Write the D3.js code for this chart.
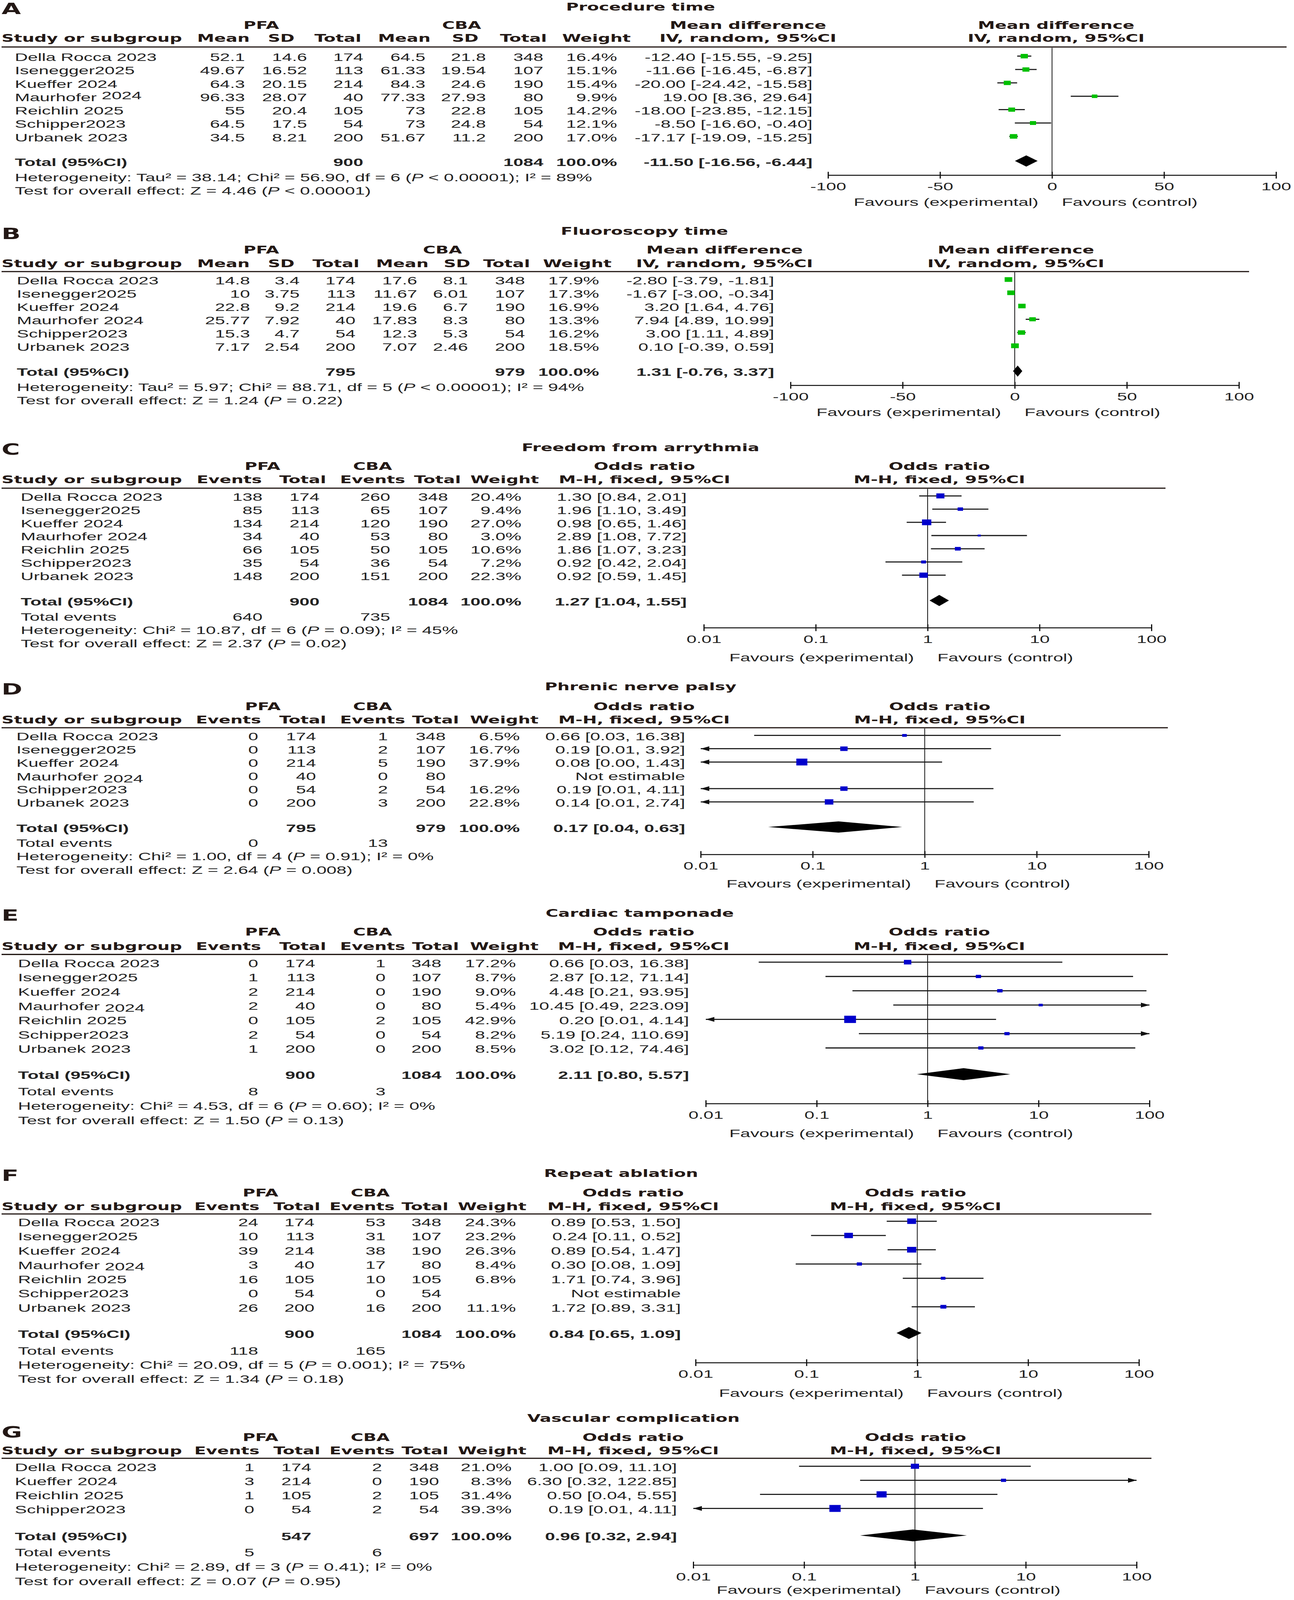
<!DOCTYPE html>
<html>
<head>
<meta charset="utf-8">
<script src="https://cdn.jsdelivr.net/npm/d3@7"></script>
<style>
  html, body { margin: 0; width: 100%; height: 100%; overflow: hidden; background: #fff; }
  svg { display: block; width: 100vw; height: 100vh; }
</style>
</head>
<body>
<svg id="chart"></svg>
<script>
const W = 3313, H = 6640;

// ---- data ----
const mdTicks = [-100, -50, 0, 50, 100];
const orTicks = [0.01, 0.1, 1, 10, 100];

// mean difference rows: study, PFA mean, SD, total, CBA mean, SD, total, weight, MD, lower, upper
const rowsA = [
  ["Della Rocca 2023", 52.1, 14.6, 174, 64.5, 21.8, 348, 16.4, -12.40, -15.55, -9.25],
  ["Isenegger2025", 49.67, 16.52, 113, 61.33, 19.54, 107, 15.1, -11.66, -16.45, -6.87],
  ["Kueffer 2024", 64.3, 20.15, 214, 84.3, 24.6, 190, 15.4, -20.00, -24.42, -15.58],
  ["Maurhofer 2024", 96.33, 28.07, 40, 77.33, 27.93, 80, 9.9, 19.00, 8.36, 29.64],
  ["Reichlin 2025", 55, 20.4, 105, 73, 22.8, 105, 14.2, -18.00, -23.85, -12.15],
  ["Schipper2023", 64.5, 17.5, 54, 73, 24.8, 54, 12.1, -8.50, -16.60, -0.40],
  ["Urbanek 2023", 34.5, 8.21, 200, 51.67, 11.2, 200, 17.0, -17.17, -19.09, -15.25]
];
const totalA = [900, 1084, -11.50, -16.56, -6.44];
const hetA = "Heterogeneity: Tau² = 38.14; Chi² = 56.90, df = 6 (P < 0.00001); I² = 89%";
const testA = "Test for overall effect: Z = 4.46 (P < 0.00001)";

const rowsB = [
  ["Della Rocca 2023", 14.8, 3.4, 174, 17.6, 8.1, 348, 17.9, -2.80, -3.79, -1.81],
  ["Isenegger2025", 10, 3.75, 113, 11.67, 6.01, 107, 17.3, -1.67, -3.00, -0.34],
  ["Kueffer 2024", 22.8, 9.2, 214, 19.6, 6.7, 190, 16.9, 3.20, 1.64, 4.76],
  ["Maurhofer 2024", 25.77, 7.92, 40, 17.83, 8.3, 80, 13.3, 7.94, 4.89, 10.99],
  ["Schipper2023", 15.3, 4.7, 54, 12.3, 5.3, 54, 16.2, 3.00, 1.11, 4.89],
  ["Urbanek 2023", 7.17, 2.54, 200, 7.07, 2.46, 200, 18.5, 0.10, -0.39, 0.59]
];
const totalB = [795, 979, 1.31, -0.76, 3.37];
const hetB = "Heterogeneity: Tau² = 5.97; Chi² = 88.71, df = 5 (P < 0.00001); I² = 94%";
const testB = "Test for overall effect: Z = 1.24 (P = 0.22)";

// odds ratio rows: study, PFA events, total, CBA events, total, weight, OR, lower, upper
const rowsC = [
  ["Della Rocca 2023", 138, 174, 260, 348, 20.4, 1.30, 0.84, 2.01],
  ["Isenegger2025", 85, 113, 65, 107, 9.4, 1.96, 1.10, 3.49],
  ["Kueffer 2024", 134, 214, 120, 190, 27.0, 0.98, 0.65, 1.46],
  ["Maurhofer 2024", 34, 40, 53, 80, 3.0, 2.89, 1.08, 7.72],
  ["Reichlin 2025", 66, 105, 50, 105, 10.6, 1.86, 1.07, 3.23],
  ["Schipper2023", 35, 54, 36, 54, 7.2, 0.92, 0.42, 2.04],
  ["Urbanek 2023", 148, 200, 151, 200, 22.3, 0.92, 0.59, 1.45]
];
const totalC = [900, 1084, 1.27, 1.04, 1.55];
const eventsC = [640, 735];
const hetC = "Heterogeneity: Chi² = 10.87, df = 6 (P = 0.09); I² = 45%";
const testC = "Test for overall effect: Z = 2.37 (P = 0.02)";

const rowsD = [
  ["Della Rocca 2023", 0, 174, 1, 348, 6.5, 0.66, 0.03, 16.38],
  ["Isenegger2025", 0, 113, 2, 107, 16.7, 0.19, 0.01, 3.92],
  ["Kueffer 2024", 0, 214, 5, 190, 37.9, 0.08, 0.00, 1.43],
  ["Maurhofer 2024", 0, 40, 0, 80, null, null, null, null],
  ["Schipper2023", 0, 54, 2, 54, 16.2, 0.19, 0.01, 4.11],
  ["Urbanek 2023", 0, 200, 3, 200, 22.8, 0.14, 0.01, 2.74]
];
const totalD = [795, 979, 0.17, 0.04, 0.63];
const eventsD = [0, 13];
const hetD = "Heterogeneity: Chi² = 1.00, df = 4 (P = 0.91); I² = 0%";
const testD = "Test for overall effect: Z = 2.64 (P = 0.008)";

const rowsE = [
  ["Della Rocca 2023", 0, 174, 1, 348, 17.2, 0.66, 0.03, 16.38],
  ["Isenegger2025", 1, 113, 0, 107, 8.7, 2.87, 0.12, 71.14],
  ["Kueffer 2024", 2, 214, 0, 190, 9.0, 4.48, 0.21, 93.95],
  ["Maurhofer 2024", 2, 40, 0, 80, 5.4, 10.45, 0.49, 223.09],
  ["Reichlin 2025", 0, 105, 2, 105, 42.9, 0.20, 0.01, 4.14],
  ["Schipper2023", 2, 54, 0, 54, 8.2, 5.19, 0.24, 110.69],
  ["Urbanek 2023", 1, 200, 0, 200, 8.5, 3.02, 0.12, 74.46]
];
const totalE = [900, 1084, 2.11, 0.80, 5.57];
const eventsE = [8, 3];
const hetE = "Heterogeneity: Chi² = 4.53, df = 6 (P = 0.60); I² = 0%";
const testE = "Test for overall effect: Z = 1.50 (P = 0.13)";

const rowsF = [
  ["Della Rocca 2023", 24, 174, 53, 348, 24.3, 0.89, 0.53, 1.50],
  ["Isenegger2025", 10, 113, 31, 107, 23.2, 0.24, 0.11, 0.52],
  ["Kueffer 2024", 39, 214, 38, 190, 26.3, 0.89, 0.54, 1.47],
  ["Maurhofer 2024", 3, 40, 17, 80, 8.4, 0.30, 0.08, 1.09],
  ["Reichlin 2025", 16, 105, 10, 105, 6.8, 1.71, 0.74, 3.96],
  ["Schipper2023", 0, 54, 0, 54, null, null, null, null],
  ["Urbanek 2023", 26, 200, 16, 200, 11.1, 1.72, 0.89, 3.31]
];
const totalF = [900, 1084, 0.84, 0.65, 1.09];
const eventsF = [118, 165];
const hetF = "Heterogeneity: Chi² = 20.09, df = 5 (P = 0.001); I² = 75%";
const testF = "Test for overall effect: Z = 1.34 (P = 0.18)";

const rowsG = [
  ["Della Rocca 2023", 1, 174, 2, 348, 21.0, 1.00, 0.09, 11.10],
  ["Kueffer 2024", 3, 214, 0, 190, 8.3, 6.30, 0.32, 122.85],
  ["Reichlin 2025", 1, 105, 2, 105, 31.4, 0.50, 0.04, 5.55],
  ["Schipper2023", 0, 54, 2, 54, 39.3, 0.19, 0.01, 4.11]
];
const totalG = [547, 697, 0.96, 0.32, 2.94];
const eventsG = [5, 6];
const hetG = "Heterogeneity: Chi² = 2.89, df = 3 (P = 0.41); I² = 0%";
const testG = "Test for overall effect: Z = 0.07 (P = 0.95)";

// ---- layout of each panel (pixel positions) ----
const panels = [
  { id: "A", title: "Procedure time", type: "md", rows: rowsA, total: totalA, het: hetA, test: testA,
    labelY: 36, titleX: 1640, titleY: 28, head1Y: 105, head2Y: 158, ruleY: 195, ruleEnd: 3294,
    firstY: 237, lastY: 570, totalY: 672, hetY: 735, testY: 791, axisY: 727, favY: 838,
    studyX: 38, colX: [627, 786, 930, 1089, 1244, 1391], weightX: 1580, ciX: 2080,
    headX: [572, 720, 865, 1035, 1191, 1340], weightHX: 1527, groupX: [669, 1182],
    ciHX: 1915, plotHX: 2704, plot: [2120, 3267], maurDy: -8 },
  { id: "B", title: "Fluoroscopy time", type: "md", rows: rowsB, total: totalB, het: hetB, test: testB,
    labelY: 971, titleX: 1650, titleY: 960, head1Y: 1037, head2Y: 1094, ruleY: 1127, ruleEnd: 3198,
    firstY: 1164, lastY: 1439, totalY: 1544, hetY: 1606, testY: 1661, axisY: 1599, favY: 1710,
    studyX: 43, colX: [640, 767, 910, 1068, 1198, 1344], weightX: 1534, ciX: 1982,
    headX: [572, 720, 860, 1030, 1170, 1297], weightHX: 1478, groupX: [669, 1133],
    ciHX: 1855, plotHX: 2601, plot: [2024, 3172], maurDy: 0 },
  { id: "C", title: "Freedom from arrythmia", type: "or", rows: rowsC, total: totalC, events: eventsC, het: hetC, test: testC,
    labelY: 1866, titleX: 1640, titleY: 1858, head1Y: 1935, head2Y: 1991, ruleY: 2026, ruleEnd: 2984,
    firstY: 2062, lastY: 2391, totalY: 2496, eventsY: 2559, hetY: 2614, testY: 2669, axisY: 2605, favY: 2728,
    studyX: 53, colX: [672, 818, 999, 1147], weightX: 1335, ciX: 1758,
    headX: [587, 775, 954, 1120], weightHX: 1292, groupX: [672, 954],
    ciHX: 1650, plotHX: 2405, plot: [1802, 2948], maurDy: 0 },
  { id: "D", title: "Phrenic nerve palsy", type: "or", rows: rowsD, total: totalD, events: eventsD, het: hetD, test: testD,
    labelY: 2860, titleX: 1640, titleY: 2850, head1Y: 2932, head2Y: 2988, ruleY: 3020, ruleEnd: 2990,
    firstY: 3056, lastY: 3332, totalY: 3436, eventsY: 3498, hetY: 3553, testY: 3610, axisY: 3546, favY: 3667,
    studyX: 42, colX: [661, 809, 993, 1141], weightX: 1331, ciX: 1754,
    headX: [585, 775, 954, 1115], weightHX: 1291, groupX: [673, 954],
    ciHX: 1649, plotHX: 2406, plot: [1794, 2941], maurDy: 9 },
  { id: "E", title: "Cardiac tamponade", type: "or", rows: rowsE, total: totalE, events: eventsE, het: hetE, test: testE,
    labelY: 3800, titleX: 1638, titleY: 3790, head1Y: 3868, head2Y: 3927, ruleY: 3961, ruleEnd: 2990,
    firstY: 3997, lastY: 4353, totalY: 4462, eventsY: 4530, hetY: 4589, testY: 4648, axisY: 4580, favY: 4703,
    studyX: 46, colX: [661, 807, 987, 1130], weightX: 1321, ciX: 1764,
    headX: [585, 775, 954, 1115], weightHX: 1291, groupX: [673, 954],
    ciHX: 1648, plotHX: 2405, plot: [1807, 2943], maurDy: 6 },
  { id: "F", title: "Repeat ablation", type: "or", rows: rowsF, total: totalF, events: eventsF, het: hetF, test: testF,
    labelY: 4879, titleX: 1590, titleY: 4870, head1Y: 4950, head2Y: 5007, ruleY: 5038, ruleEnd: 2948,
    firstY: 5072, lastY: 5427, totalY: 5536, eventsY: 5605, hetY: 5663, testY: 5722, axisY: 5655, favY: 5780,
    studyX: 46, colX: [661, 805, 987, 1130], weightX: 1321, ciX: 1743,
    headX: [581, 760, 927, 1088], weightHX: 1260, groupX: [667, 948],
    ciHX: 1621, plotHX: 2344, plot: [1781, 2916], maurDy: 6 },
  { id: "G", title: "Vascular complication", type: "or", rows: rowsG, total: totalG, events: eventsG, het: hetG, test: testG,
    labelY: 5944, titleX: 1622, titleY: 5885, head1Y: 5965, head2Y: 6020, ruleY: 6052, ruleEnd: 2948,
    firstY: 6089, lastY: 6264, totalY: 6376, eventsY: 6443, hetY: 6502, testY: 6562, axisY: 6495, favY: 6598,
    studyX: 38, colX: [651, 797, 978, 1124], weightX: 1310, ciX: 1733,
    headX: [581, 760, 927, 1088], weightHX: 1260, groupX: [667, 948],
    ciHX: 1621, plotHX: 2344, plot: [1775, 2910], maurDy: 0 }
];

const HEAD = "'DejaVu Sans', Verdana, sans-serif";
const BODY = "'Liberation Sans', Arial, sans-serif";
const INK = "#231815";

// the figure is drawn in its own 3313x6640 frame and stretched to whatever window it gets
const svg = d3.select("#chart")
  .attr("viewBox", `0 0 ${W} ${H}`)
  .attr("preserveAspectRatio", "none");
svg.append("rect").attr("width", W).attr("height", H).attr("fill", "#fff");

function txt(g, x, y, s, opt = {}) {
  const t = g.append("text")
    .attr("x", x)
    .attr("y", y)
    .attr("dominant-baseline", "central")
    .attr("text-anchor", opt.anchor || "start")
    .attr("font-family", opt.head ? HEAD : BODY)
    .attr("font-size", opt.size || (opt.head ? 44 : 46))
    .attr("font-weight", opt.head || opt.bold ? "bold" : "normal")
    .attr("fill", opt.head ? INK : "#222");
  if (s != null) t.text(s);
  return t;
}

// statistics line, P in italics
function statLine(g, x, y, s) {
  const t = txt(g, x, y, null);
  const parts = s.split("(P");
  t.append("tspan").text(parts[0] + "(");
  t.append("tspan").attr("font-style", "italic").text("P");
  t.append("tspan").text(parts[1]);
}

const ciText = (e, l, u) => `${e.toFixed(2)} [${l.toFixed(2)}, ${u.toFixed(2)}]`;

function drawPanel(p) {
  const g = svg.append("g").attr("class", `panel ${p.id}`);
  const isMD = p.type === "md";
  const effName = isMD ? "Mean difference" : "Odds ratio";
  const method = isMD ? "IV, random, 95%CI" : "M-H, fixed, 95%CI";
  const colNames = isMD ? ["Mean", "SD", "Total", "Mean", "SD", "Total"] : ["Events", "Total", "Events", "Total"];
  const nCols = colNames.length;

  // --- headers ---
  txt(g, 4, p.labelY, p.id, { head: true, size: 64 });
  txt(g, p.titleX, p.titleY, p.title, { head: true, anchor: "middle" });
  txt(g, p.groupX[0], p.head1Y, "PFA", { head: true, anchor: "middle" });
  txt(g, p.groupX[1], p.head1Y, "CBA", { head: true, anchor: "middle" });
  txt(g, p.ciHX, p.head1Y, effName, { head: true, anchor: "middle" });
  txt(g, p.plotHX, p.head1Y, effName, { head: true, anchor: "middle" });
  txt(g, 4, p.head2Y, "Study or subgroup", { head: true });
  colNames.forEach((c, i) => txt(g, p.headX[i], p.head2Y, c, { head: true, anchor: "middle" }));
  txt(g, p.weightHX, p.head2Y, "Weight", { head: true, anchor: "middle" });
  txt(g, p.ciHX, p.head2Y, method, { head: true, anchor: "middle" });
  txt(g, p.plotHX, p.head2Y, method, { head: true, anchor: "middle" });

  g.append("line")
    .attr("x1", 4).attr("x2", p.ruleEnd)
    .attr("y1", p.ruleY).attr("y2", p.ruleY)
    .attr("stroke", INK).attr("stroke-width", 5);

  // --- scales ---
  const y = d3.scaleLinear().domain([0, p.rows.length - 1]).range([p.firstY, p.lastY]);
  const x = isMD
    ? d3.scaleLinear().domain([-100, 100]).range(p.plot)
    : d3.scaleLog().domain([0.01, 100]).range(p.plot);
  const ref = isMD ? 0 : 1;
  const [dMin, dMax] = x.domain();
  const px = v => (v <= dMin ? p.plot[0] : v >= dMax ? p.plot[1] : x(v));
  const markDy = -4;
  const fill = isMD ? "#00c000" : "#0000cc";
  const half = (p.lastY - p.firstY) / (p.rows.length - 1) * 0.42;

  // reference line
  g.append("line")
    .attr("x1", x(ref)).attr("x2", x(ref))
    .attr("y1", p.ruleY + 3).attr("y2", p.axisY)
    .attr("stroke", "#111").attr("stroke-width", 2);

  // --- study rows ---
  p.rows.forEach((r, i) => {
    const yy = y(i);
    const name = txt(g, p.studyX, yy, null);
    if (r[0] === "Maurhofer 2024" && p.maurDy) {
      name.append("tspan").text("Maurhofer ");
      name.append("tspan").attr("dy", p.maurDy).text("2024");
    } else {
      name.text(r[0]);
    }
    for (let c = 0; c < nCols; c++) txt(g, p.colX[c], yy, String(r[c + 1]), { anchor: "end" });

    const [w, est, lo, hi] = r.slice(nCols + 1);
    if (est == null) {
      txt(g, p.ciX, yy, "Not estimable", { anchor: "end" });
      return;
    }
    txt(g, p.weightX, yy, w.toFixed(1) + "%", { anchor: "end" });
    txt(g, p.ciX, yy, ciText(est, lo, hi), { anchor: "end" });

    const my = yy + markDy;
    const xl = px(lo), xh = px(hi);
    g.append("line")
      .attr("x1", xl).attr("x2", xh).attr("y1", my).attr("y2", my)
      .attr("stroke", "#161616").attr("stroke-width", 4.5);
    if (lo <= dMin) {
      g.append("path")
        .attr("d", `M${xl},${my} L${xl + 22},${my - 10} L${xl + 22},${my + 10} Z`)
        .attr("fill", "#111");
    }
    if (hi >= dMax) {
      g.append("path")
        .attr("d", `M${xh},${my} L${xh - 22},${my - 10} L${xh - 22},${my + 10} Z`)
        .attr("fill", "#111");
    }
    const s = 4.6 * Math.sqrt(w);
    g.append("rect")
      .attr("x", x(est) - s / 2).attr("y", my - s / 2)
      .attr("width", s).attr("height", s)
      .attr("fill", fill);
  });

  // --- total row ---
  const [n1, n2, tEst, tLo, tHi] = p.total;
  txt(g, p.studyX, p.totalY, "Total (95%CI)", { bold: true });
  txt(g, p.colX[isMD ? 2 : 1], p.totalY, String(n1), { bold: true, anchor: "end" });
  txt(g, p.colX[isMD ? 5 : 3], p.totalY, String(n2), { bold: true, anchor: "end" });
  txt(g, p.weightX, p.totalY, "100.0%", { bold: true, anchor: "end" });
  txt(g, p.ciX, p.totalY, ciText(tEst, tLo, tHi), { bold: true, anchor: "end" });
  const dy = p.totalY + markDy;
  g.append("path")
    .attr("d", `M${x(tLo)},${dy} L${x(tEst)},${dy - half} L${x(tHi)},${dy} L${x(tEst)},${dy + half} Z`)
    .attr("fill", "#000");

  if (p.events) {
    txt(g, p.studyX, p.eventsY, "Total events");
    txt(g, p.colX[0], p.eventsY, String(p.events[0]), { anchor: "end" });
    txt(g, p.colX[2], p.eventsY, String(p.events[1]), { anchor: "end" });
  }
  statLine(g, p.studyX, p.hetY, p.het);
  statLine(g, p.studyX, p.testY, p.test);

  // --- axis ---
  const axis = d3.axisBottom(x)
    .tickValues(isMD ? mdTicks : orTicks)
    .tickFormat(d => String(d))
    .tickSize(14)
    .tickSizeOuter(0);
  const ag = g.append("g").attr("transform", `translate(0,${p.axisY})`).call(axis);
  ag.select(".domain").attr("stroke", "#111").attr("stroke-width", 4);
  ag.selectAll(".tick line")
    .attr("y1", -14).attr("y2", 14)
    .attr("stroke", "#111").attr("stroke-width", 3);
  ag.selectAll(".tick text")
    .attr("y", 47).attr("dy", null)
    .attr("dominant-baseline", "central")
    .attr("font-family", BODY).attr("font-size", 46)
    .attr("fill", "#222");

  txt(g, x(ref) - 35, p.favY, "Favours (experimental)", { anchor: "end" });
  txt(g, x(ref) + 25, p.favY, "Favours (control)");
}

panels.forEach(drawPanel);
</script>
</body>
</html>
